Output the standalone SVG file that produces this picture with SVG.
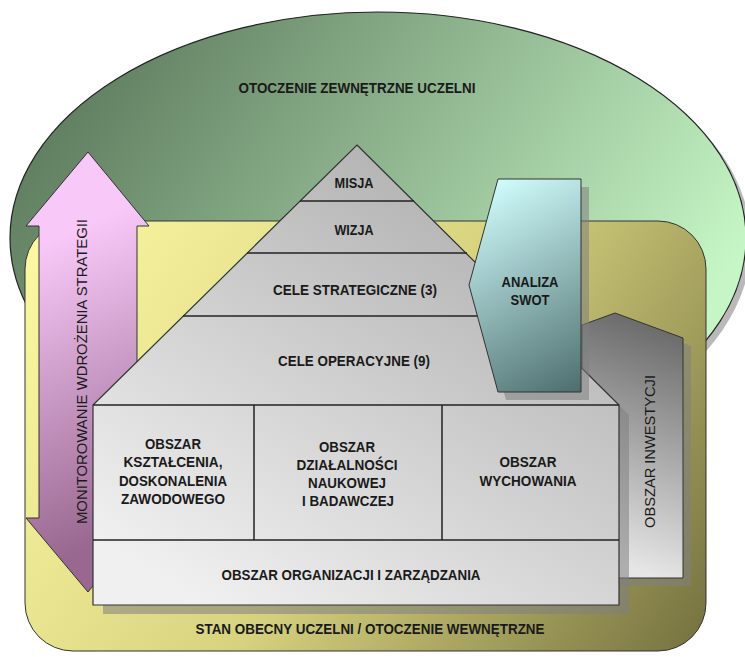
<svg xmlns="http://www.w3.org/2000/svg" width="745" height="657" viewBox="0 0 745 657">
<defs>
<linearGradient id="gEll" gradientUnits="userSpaceOnUse" x1="120" y1="40" x2="640" y2="400">
<stop offset="0" stop-color="#628062"/><stop offset="1" stop-color="#c6f6c6"/>
</linearGradient>
<linearGradient id="gYel" gradientUnits="userSpaceOnUse" x1="40" y1="230" x2="700" y2="650">
<stop offset="0" stop-color="#fcf8a2"/><stop offset="0.5" stop-color="#d6d27e"/><stop offset="1" stop-color="#767240"/>
</linearGradient>
<linearGradient id="gPink" gradientUnits="userSpaceOnUse" x1="30" y1="250" x2="150" y2="520">
<stop offset="0" stop-color="#f8c8f8"/><stop offset="1" stop-color="#986890"/>
</linearGradient>
<linearGradient id="gGray" gradientUnits="userSpaceOnUse" x1="610" y1="560" x2="690" y2="340">
<stop offset="0" stop-color="#e6e6e6"/><stop offset="1" stop-color="#6c6c6c"/>
</linearGradient>
<linearGradient id="gHouse" gradientUnits="userSpaceOnUse" x1="520" y1="140" x2="230" y2="620">
<stop offset="0" stop-color="#aaaaaa"/><stop offset="1" stop-color="#f0f0f0"/>
</linearGradient>
<linearGradient id="gSwot" gradientUnits="userSpaceOnUse" x1="480" y1="190" x2="590" y2="390">
<stop offset="0" stop-color="#d0fcfc"/><stop offset="1" stop-color="#4c6c6c"/>
</linearGradient>
<style>
.lbl{font-family:"Liberation Sans Narrow","Liberation Sans",Arial,sans-serif;font-weight:bold;font-size:15px;fill:#1a1a1a;text-anchor:middle}
.vl{font-family:"Liberation Sans",Arial,sans-serif;font-size:15px;fill:#1a1a1a;text-anchor:middle}
.ln{stroke:#222;stroke-width:1.5;fill:none}
.sh{fill:#808080;opacity:0.55}
</style>
</defs>

<g id="otoczenie-zewnetrzne">
<ellipse cx="383" cy="243" rx="368" ry="226" class="sh"/>
<ellipse cx="378" cy="238" rx="368" ry="226" fill="url(#gEll)" stroke="#222" stroke-width="1.2"/>
<text class="lbl" x="357" y="93" textLength="237" lengthAdjust="spacingAndGlyphs">OTOCZENIE ZEWNĘTRZNE UCZELNI</text>
</g>

<g id="stan-obecny">
<rect x="25" y="221" width="681" height="430" rx="48" ry="48" fill="url(#gYel)" stroke="#333" stroke-width="1"/>
<text class="lbl" x="370" y="634" textLength="349" lengthAdjust="spacingAndGlyphs">STAN OBECNY UCZELNI / OTOCZENIE WEWNĘTRZNE</text>
</g>

<g id="monitorowanie">
<polygon points="88,152 149,226 137,226 137,518 149,518 88,592 26,518 39,518 39,226 26,226" fill="url(#gPink)" stroke="#333" stroke-width="1"/>
<text class="vl" transform="translate(87,371.5) rotate(-90)" x="0" y="0" textLength="305" lengthAdjust="spacingAndGlyphs">MONITOROWANIE WDROŻENIA STRATEGII</text>
</g>

<g id="obszar-inwestycji">
<polygon points="590,333 623,321 691,346 691,586 590,586" class="sh"/>
<polygon points="582,325 615,313 683,338 683,578 582,578" fill="url(#gGray)" stroke="#333" stroke-width="1"/>
<text class="vl" transform="translate(655,451.5) rotate(-90)" x="0" y="0" textLength="153" lengthAdjust="spacingAndGlyphs">OBSZAR INWESTYCJI</text>
</g>

<g id="strategia">
<path d="M367,155 L629,415 L629,614 L103,614 L103,415 Z" class="sh"/>
<path d="M357,145 L619,405 L619,605 L93,605 L93,405 Z" fill="url(#gHouse)" stroke="#333" stroke-width="1.2"/>
<line class="ln" x1="300" y1="201" x2="414" y2="201"/>
<line class="ln" x1="247" y1="253" x2="467" y2="253"/>
<line class="ln" x1="183" y1="316" x2="531" y2="316"/>
<line class="ln" x1="93" y1="405" x2="619" y2="405"/>
<line class="ln" x1="93" y1="540" x2="619" y2="540"/>
<line class="ln" x1="254" y1="405" x2="254" y2="540" stroke-width="1.2"/>
<line class="ln" x1="442" y1="405" x2="442" y2="540" stroke-width="1.2"/>
</g>

<g id="misja"><text class="lbl" x="354" y="188" textLength="39" lengthAdjust="spacingAndGlyphs">MISJA</text></g>
<g id="wizja"><text class="lbl" x="354" y="235" textLength="39" lengthAdjust="spacingAndGlyphs">WIZJA</text></g>
<g id="cele-strategiczne"><text class="lbl" x="355" y="295" textLength="164" lengthAdjust="spacingAndGlyphs">CELE STRATEGICZNE (3)</text></g>
<g id="cele-operacyjne"><text class="lbl" x="354" y="366" textLength="152" lengthAdjust="spacingAndGlyphs">CELE OPERACYJNE (9)</text></g>

<g id="obszar-ksztalcenia">
<text class="lbl" x="173" y="449" textLength="56" lengthAdjust="spacingAndGlyphs">OBSZAR</text>
<text class="lbl" x="173" y="467" textLength="99" lengthAdjust="spacingAndGlyphs">KSZTAŁCENIA,</text>
<text class="lbl" x="173" y="486" textLength="108" lengthAdjust="spacingAndGlyphs">DOSKONALENIA</text>
<text class="lbl" x="173" y="504" textLength="104" lengthAdjust="spacingAndGlyphs">ZAWODOWEGO</text>
</g>
<g id="obszar-dzialalnosci">
<text class="lbl" x="347" y="452" textLength="56" lengthAdjust="spacingAndGlyphs">OBSZAR</text>
<text class="lbl" x="347" y="470" textLength="101" lengthAdjust="spacingAndGlyphs">DZIAŁALNOŚCI</text>
<text class="lbl" x="347" y="488" textLength="78" lengthAdjust="spacingAndGlyphs">NAUKOWEJ</text>
<text class="lbl" x="348" y="506" textLength="92" lengthAdjust="spacingAndGlyphs">I BADAWCZEJ</text>
</g>
<g id="obszar-wychowania">
<text class="lbl" x="528" y="467" textLength="57" lengthAdjust="spacingAndGlyphs">OBSZAR</text>
<text class="lbl" x="528" y="486" textLength="97" lengthAdjust="spacingAndGlyphs">WYCHOWANIA</text>
</g>
<g id="obszar-organizacji">
<text class="lbl" x="351" y="580" textLength="259" lengthAdjust="spacingAndGlyphs">OBSZAR ORGANIZACJI I ZARZĄDZANIA</text>
</g>

<g id="analiza-swot">
<polygon points="506,187 589,187 589,400 506,400 477,293" class="sh"/>
<polygon points="498,179 581,179 581,392 498,392 469,285" fill="url(#gSwot)" stroke="#333" stroke-width="1"/>
<text class="lbl" x="530" y="287" textLength="57" lengthAdjust="spacingAndGlyphs">ANALIZA</text>
<text class="lbl" x="530" y="305" textLength="39" lengthAdjust="spacingAndGlyphs">SWOT</text>
</g>

<g id="connectors"></g>
</svg>
